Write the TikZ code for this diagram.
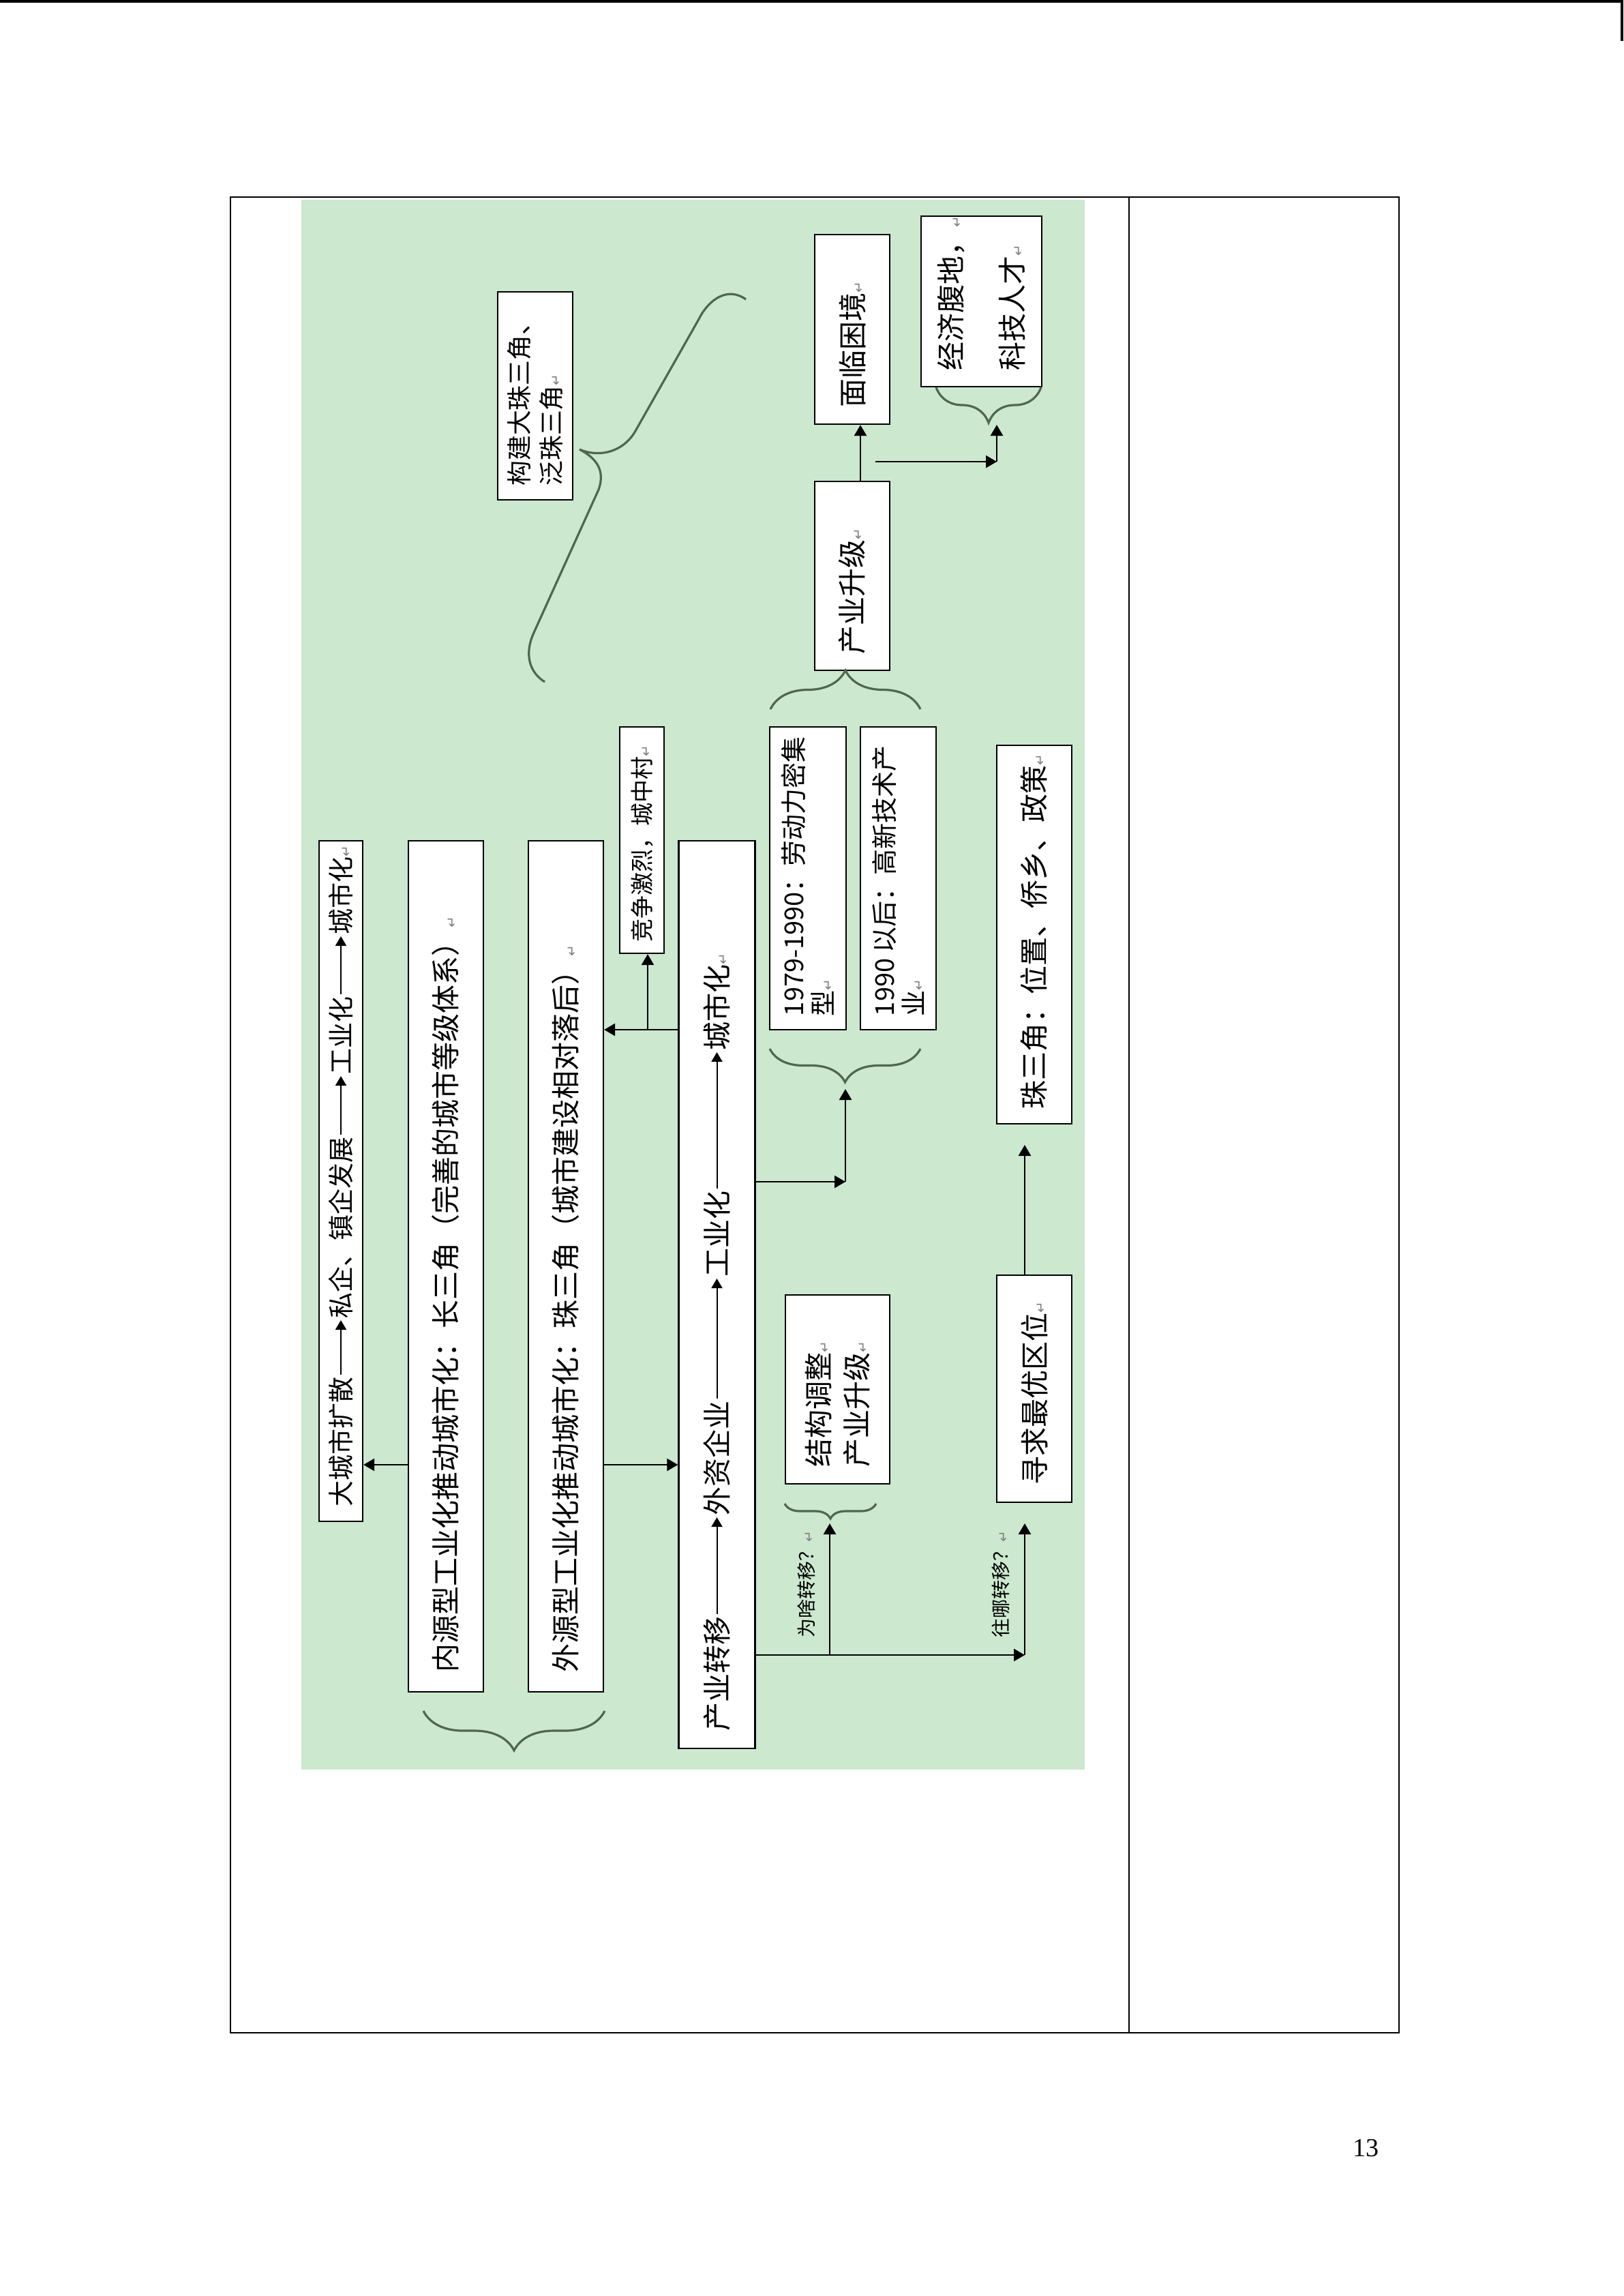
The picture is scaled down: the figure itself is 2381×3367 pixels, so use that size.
\documentclass[tikz,border=0pt]{standalone}
\usepackage{fontspec}
\setmainfont{Noto Sans CJK SC}
\newfontfamily\symfont{DejaVu Sans}
\newfontfamily\pagefont{Liberation Serif}
\usepackage{graphicx}
\usepackage{xcolor}
\usetikzlibrary{arrows.meta}
\usetikzlibrary{decorations.pathreplacing}

\definecolor{bggreen}{RGB}{204,232,207}
\definecolor{braceg}{RGB}{78,104,80}
\newcommand{\vtxt}[2]{\rotatebox{90}{\parbox{#1}{\raggedright #2}}}
\newcommand{\rmk}{{\fontsize{5}{5}\symfont\color{gray}↵}}

\tikzset{
  box/.style={draw, fill=white, line width=0.6pt, inner sep=0pt},
  arr/.style={-{Triangle[length=4pt,width=4.5pt]}, line width=0.7pt},
  thinarr/.style={-{Triangle[length=3.5pt,width=4pt]}, line width=0.5pt},
  brc/.style={decorate, decoration={brace, amplitude=#1}, draw=braceg, line width=0.8pt},
  word/.style={inner sep=0.5pt, anchor=south},
  fnormal/.style={font=\fontsize{10.5}{12}\selectfont},
}

\begin{document}
\begin{tikzpicture}[x=0.25pt, y=-0.25pt]
\useasboundingbox (0,0) rectangle (2381,3367);
\fill (0,0) rectangle (2381,4);
\fill (2377,0) rectangle (2381,60);
\fill[bggreen] (442,293) rectangle (1591,2595);
\draw[line width=0.6pt] (338,289) rectangle (2052,2981);
\draw[line width=0.6pt] (1656,289) -- (1656,2981);

% left column
\node[box, minimum width=16pt, minimum height=249.5pt] (A) at (500,1732) {};
\node[word, font=\fontsize{9.5}{11}\selectfont] (a1) at (500,2212) {\rotatebox{90}{大城市扩散}};
\node[word, font=\fontsize{9.5}{11}\selectfont] (a2) at (500,1936) {\rotatebox{90}{私企、镇企发展}};
\node[word, font=\fontsize{9.5}{11}\selectfont] (a3) at (500,1578) {\rotatebox{90}{工业化}};
\node[word, font=\fontsize{9.5}{11}\selectfont] (a4) at (500,1373) {\rotatebox{90}{城市化\rmk}};
\draw[thinarr] (a1) -- (a2);
\draw[thinarr] (a2) -- (a3);
\draw[thinarr] (a3) -- (a4);

\node[box, fnormal, minimum width=27.5pt, minimum height=312pt] (B) at (654,1857)
  {\vtxt{297.5pt}{内源型工业化推动城市化：长三角（完善的城市等级体系）\rmk}};
\node[box, fnormal, minimum width=27.5pt, minimum height=312pt] (C) at (830,1857)
  {\vtxt{297.5pt}{外源型工业化推动城市化：珠三角（城市建设相对落后）\rmk}};
\node[box, font=\fontsize{8.5}{10}\selectfont, minimum width=16.25pt, minimum height=83pt] (D) at (941.5,1232)
  {\vtxt{74.5pt}{竞争激烈，城中村\rmk}};

\node[box, minimum width=28pt, minimum height=332.75pt] (E) at (1051.5,1898.5) {};
\node[word, fnormal] (e1) at (1051.5,2541) {\rotatebox{90}{产业转移}};
\node[word, fnormal] (e2) at (1051.5,2225) {\rotatebox{90}{外资企业}};
\node[word, fnormal] (e3) at (1051.5,1875) {\rotatebox{90}{工业化}};
\node[word, fnormal] (e4) at (1051.5,1543) {\rotatebox{90}{城市化\rmk}};
\draw[thinarr] (e1) -- (e2);
\draw[thinarr] (e2) -- (e3);
\draw[thinarr] (e3) -- (e4);

% right part
\node[box, font=\fontsize{9.5}{10.75}\selectfont, minimum width=28pt, minimum height=111pt] (F) at (1185,1288)
  {\vtxt{101pt}{\mbox{1979-1990：劳动力密集}\\型\rmk}};
\node[box, font=\fontsize{9.5}{10.75}\selectfont, minimum width=27.75pt, minimum height=111pt] (G) at (1317.5,1288)
  {\vtxt{101pt}{\mbox{1990 以后：高新技术产}\\业\rmk}};
\node[box, fnormal, minimum width=27.5pt, minimum height=69.25pt] (H) at (1250,844.5)
  {\vtxt{57.25pt}{产业升级\rmk}};
\node[box, fnormal, minimum width=27.5pt, minimum height=69.5pt] (I) at (1250,483)
  {\vtxt{57pt}{面临困境\rmk}};
\node[box, font=\fontsize{10.5}{22.5}\selectfont, minimum width=44.25pt, minimum height=62.5pt] (J) at (1439.5,442)
  {\vtxt{50.5pt}{经济腹地，\rmk\\科技人才\rmk}};
\node[box, font=\fontsize{9.2}{11.75}\selectfont, minimum width=27.5pt, minimum height=76.25pt] (K) at (785,580.5)
  {\vtxt{66pt}{构建大珠三角、\\泛珠三角\rmk}};
\node[box, fnormal, minimum width=27.5pt, minimum height=138.75pt] (L) at (1517,1370.5)
  {\vtxt{127.75pt}{珠三角：位置、侨乡、政策\rmk}};
\node[box, fnormal, minimum width=27.5pt, minimum height=83.25pt] (M) at (1517,2036.5)
  {\vtxt{70.25pt}{寻求最优区位\rmk}};
\node[box, font=\fontsize{10.5}{14}\selectfont, minimum width=38.25pt, minimum height=69.25pt] (N) at (1228.5,2037.5)
  {\vtxt{56.75pt}{结构调整\rmk\\产业升级\rmk}};
\node[word, font=\fontsize{7}{8}\selectfont] (why) at (1183,2404) {\rotatebox{90}{为啥转移？\rmk}};
\node[word, font=\fontsize{7}{8}\selectfont] (where) at (1468,2404) {\rotatebox{90}{往哪转移？\rmk}};

% braces
\draw[brc=14.5pt] (887,2509) -- (621,2509);
\draw[brc=12.25pt] (1350,1538) -- (1129,1538);
\draw[brc=14.25pt] (1130,1040) -- (1350,1040);
\draw[brc=13pt] (1527,568) -- (1373,568);
\draw[brc=5.5pt] (1285,2205) -- (1151,2205);
\draw[braceg, line width=0.8pt] (1094,439) .. controls (1068,420) and (1040,438) .. (1025,468)
  -- (932,632) .. controls (915,662) and (880,672) .. (850,659)
  .. controls (875,672) and (888,690) .. (878,718)
  -- (782,930) .. controls (770,958) and (775,985) .. (799,1000);

% connectors
\draw[arr] (B.west |- 0,2148) -- (A.east |- 0,2148);
\draw[arr] (C.east |- 0,2148) -- (E.west |- 0,2148);
\draw[arr] (E.west |- 0,1510) -- (C.east |- 0,1510);
\coordinate (dj) at (950,1510);
\draw[arr] (dj) -- (dj |- D.south);
\coordinate (fg) at (1240,1733);
\coordinate (fgtip) at (1240,1597);
\draw[arr] (E.east |- fg) -- (fg);
\draw[arr] (fg) -- (fgtip);
\draw[arr] ([xshift=3pt]H.north) -- ([xshift=3pt]I.south);
\coordinate (hs) at (1284,677);
\coordinate (hj) at (1462,677);
\coordinate (jtip) at (1462,623);
\draw[arr] (hs) -- (hj);
\draw[arr] (hj) -- (jtip);
\coordinate (nb) at (1217,2427);
\coordinate (mb) at (1503,2427);
\coordinate (ntip) at (1217,2234);
\coordinate (mtip) at (1503,2234);
\coordinate (ltip) at (1503,1679);
\draw[arr] (E.east |- mb) -- (mb);
\draw[arr] (nb) -- (ntip);
\draw[arr] (mb) -- (mtip);
\draw[arr] (M.north -| mb) -- (ltip);

\node[font=\pagefont\fontsize{9.5}{11}\selectfont] (pg) at (2003,3150) {13};
\end{tikzpicture}
\end{document}
